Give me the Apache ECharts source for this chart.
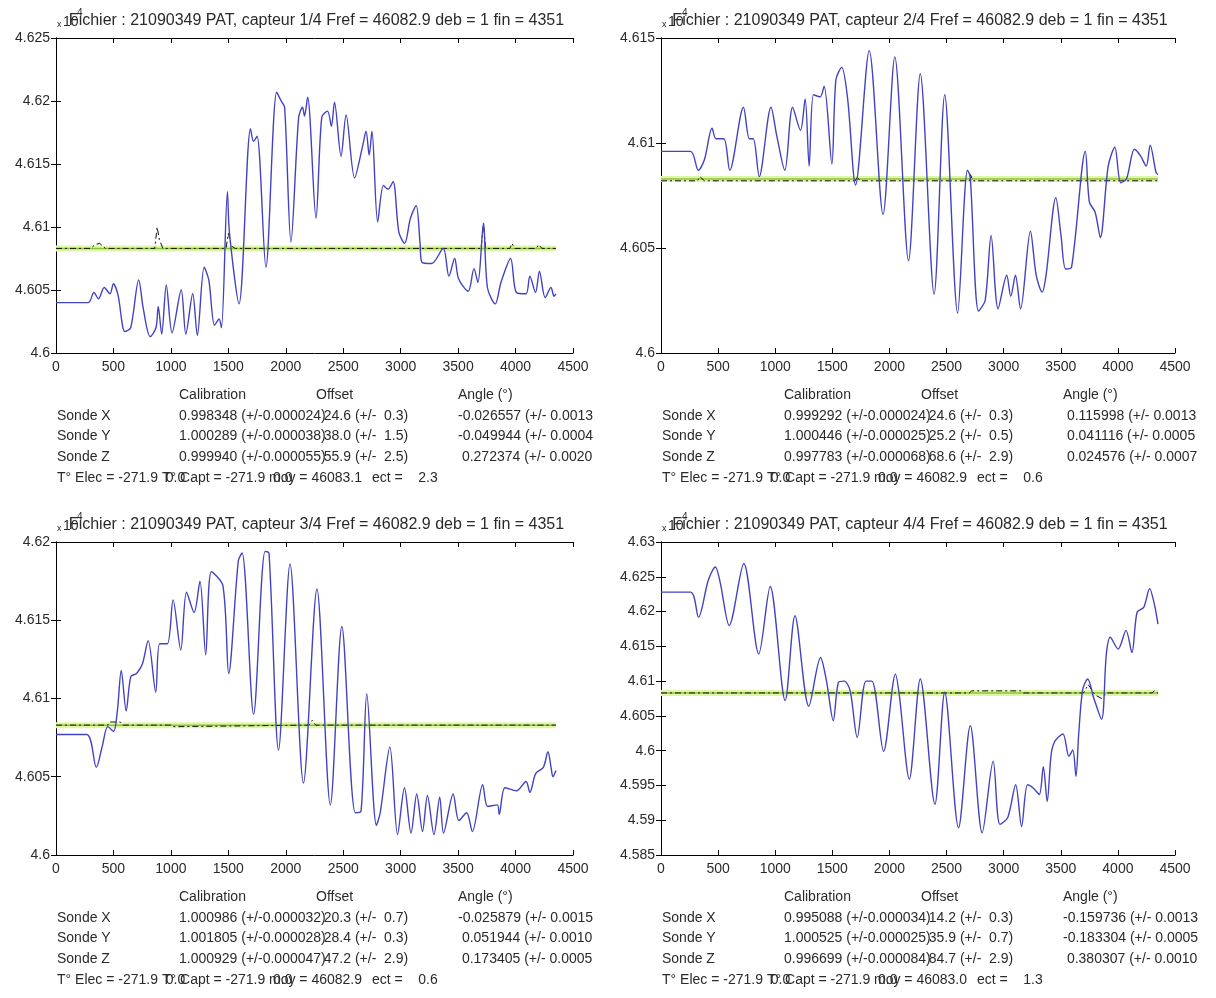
<!DOCTYPE html>
<html><head><meta charset="utf-8">
<script src="https://cdn.jsdelivr.net/npm/echarts@6/dist/echarts.min.js"></script>
<style>html,body{margin:0;padding:0;background:#fff}#c{width:1216px;height:998px}</style>
</head><body><div id="c"></div>
<script>
// ---------------- DATA ----------------
const titles = [
  'Fichier : 21090349 PAT, capteur 1/4 Fref = 46082.9 deb = 1 fin = 4351',
  'Fichier : 21090349 PAT, capteur 2/4 Fref = 46082.9 deb = 1 fin = 4351',
  'Fichier : 21090349 PAT, capteur 3/4 Fref = 46082.9 deb = 1 fin = 4351',
  'Fichier : 21090349 PAT, capteur 4/4 Fref = 46082.9 deb = 1 fin = 4351'
];
const yMin = [4.6, 4.6, 4.6, 4.585];
const yMax = [4.625, 4.615, 4.62, 4.63];
const refValue = 4.60829;   // Fref / 1e4
const lastSample = 4351;

// capteur 1/4 (blue raw signal)
const p1X = [0,280,330,370,420,470,500,540,600,650,720,760,820,870,890,920,960,1010,1090,1130,1190,1230,1290,1330,1380,1420,1440,1492,1510,1593,1693,1720,1750,1827,1921,1960,1990,2045,2112,2146,2163,2190,2263,2313,2364,2397,2424,2481,2525,2599,2666,2699,2726,2750,2800,2850,2890,2934,2984,3035,3085,3135,3168,3185,3269,3370,3420,3470,3504,3588,3638,3672,3712,3722,3755,3823,3873,3957,4007,4091,4124,4174,4208,4258,4308,4335,4351];
const p1Y = [4.6040,4.6040,4.6048,4.6043,4.6052,4.6047,4.6055,4.6046,4.6017,4.6020,4.6058,4.6035,4.6013,4.6020,4.6037,4.6015,4.6054,4.6016,4.6050,4.6015,4.6047,4.6014,4.6068,4.6058,4.6022,4.6027,4.6020,4.6128,4.6095,4.6039,4.6178,4.6168,4.6172,4.6068,4.6207,4.6200,4.6195,4.6088,4.6187,4.6195,4.6188,4.6203,4.6107,4.6187,4.6192,4.6180,4.6199,4.6156,4.6189,4.6139,4.6163,4.6176,4.6157,4.6176,4.6104,4.6133,4.6130,4.6136,4.6096,4.6087,4.6107,4.6117,4.6088,4.6072,4.6071,4.6083,4.6061,4.6075,4.6059,4.6049,4.6067,4.6056,4.6096,4.6103,4.6052,4.6039,4.6056,4.6075,4.6048,4.6047,4.6061,4.6048,4.6065,4.6044,4.6052,4.6045,4.6047];
// capteur 2/4
const p2X = [0,258,327,380,447,482,550,602,722,774,808,860,963,1015,1084,1152,1221,1262,1297,1335,1393,1428,1496,1531,1582,1634,1703,1823,1944,2047,2167,2270,2391,2484,2597,2683,2707,2780,2838,2890,2951,3027,3062,3103,3148,3234,3285,3337,3371,3457,3502,3543,3595,3715,3750,3801,3846,3915,3973,4025,4076,4145,4197,4248,4283,4334,4351];
const p2Y = [4.6096,4.6096,4.6087,4.6092,4.6107,4.6102,4.6102,4.6087,4.6117,4.6102,4.6102,4.6084,4.6117,4.6103,4.6087,4.6117,4.6106,4.6121,4.6089,4.6123,4.6122,4.6127,4.6090,4.6130,4.6136,4.6121,4.6080,4.6144,4.6066,4.6141,4.6044,4.6133,4.6028,4.6123,4.6019,4.6087,4.6084,4.6020,4.6025,4.6056,4.6021,4.6037,4.6027,4.6037,4.6021,4.6058,4.6037,4.6029,4.6037,4.6074,4.6056,4.6040,4.6041,4.6096,4.6072,4.6067,4.6055,4.6089,4.6098,4.6081,4.6083,4.6097,4.6094,4.6089,4.6099,4.6086,4.6085];
// capteur 3/4
const p3X = [0,267,351,401,451,501,534,568,611,651,701,752,802,868,902,969,1019,1086,1136,1202,1253,1303,1353,1453,1503,1587,1620,1720,1820,1854,1937,2037,2154,2271,2388,2488,2605,2655,2705,2789,2822,2906,2973,3033,3090,3140,3190,3233,3290,3340,3373,3457,3507,3574,3624,3714,3757,3841,3858,3908,4008,4091,4125,4175,4242,4282,4309,4325,4351];
const p3Y = [4.6077,4.6077,4.6056,4.6069,4.6082,4.6079,4.6092,4.6118,4.6092,4.6114,4.6116,4.6122,4.6137,4.6104,4.6135,4.6135,4.6163,4.6131,4.6168,4.6155,4.6175,4.6128,4.6181,4.6172,4.6116,4.6188,4.6193,4.6090,4.6194,4.6193,4.6067,4.6186,4.6046,4.6170,4.6032,4.6146,4.6027,4.6028,4.6103,4.6019,4.6027,4.6069,4.6013,4.6043,4.6014,4.6039,4.6015,4.6038,4.6013,4.6037,4.6014,4.6039,4.6022,4.6027,4.6015,4.6045,4.6031,4.6032,4.6026,4.6043,4.6041,4.6047,4.6040,4.6052,4.6056,4.6066,4.6056,4.6050,4.6054];
// capteur 4/4
const p4X = [0,259,328,414,476,518,597,725,856,956,1087,1173,1294,1397,1449,1508,1553,1604,1656,1718,1794,1846,1949,2053,2087,2174,2270,2398,2484,2605,2708,2812,2908,2967,3036,3105,3157,3209,3260,3312,3347,3381,3416,3450,3519,3571,3605,3633,3657,3692,3736,3788,3857,3899,3933,4002,4071,4123,4168,4226,4278,4320,4351];
const p4Y = [4.6228,4.6228,4.6192,4.6245,4.6264,4.6242,4.6180,4.6269,4.6139,4.6236,4.6072,4.6194,4.6064,4.6134,4.6100,4.6043,4.6098,4.6100,4.6086,4.6019,4.6100,4.6100,4.5999,4.6110,4.6079,4.5959,4.6103,4.5923,4.6084,4.5889,4.6036,4.5882,4.5985,4.5894,4.5904,4.5951,4.5891,4.5951,4.5946,4.5937,4.5977,4.5927,4.5995,4.6014,4.6024,4.5992,4.6001,4.5963,4.6024,4.6088,4.6103,4.6076,4.6045,4.6139,4.6163,4.6146,4.6173,4.6141,4.6199,4.6206,4.6233,4.6210,4.6182];

// corrected signals (black dash-dot)
const c1X = [0,300,340,380,430,860,880,900,930,1480,1500,1525,1560,3700,3720,3740,3950,3970,3990,4180,4200,4230,4351];
const c1Y = [4.6083,4.6083,4.6086,4.6087,4.6083,4.6083,4.6100,4.6090,4.6083,4.6083,4.6095,4.6085,4.6083,4.6083,4.6103,4.6083,4.6083,4.6087,4.6083,4.6083,4.6086,4.6083,4.6083];
const c2X = [0,320,340,380,500,1700,1720,1740,2700,2710,2730,4351];
const c2Y = [4.6082,4.6082,4.6084,4.6082,4.6082,4.6082,4.6084,4.6082,4.6082,4.6085,4.6082,4.6082];
const c3X = [0,450,470,560,580,1000,1020,2200,2230,2260,4351];
const c3Y = [4.6083,4.6083,4.6085,4.6085,4.6083,4.6083,4.6082,4.6083,4.6086,4.6083,4.6083];
const c4X = [0,2700,2720,3150,3170,3700,3740,3800,3860,3900,4300,4320,4340,4351];
const c4Y = [4.6083,4.6083,4.6086,4.6086,4.6083,4.6083,4.6095,4.6080,4.6075,4.6083,4.6083,4.6086,4.6083,4.6083];

// table texts
const calib = [
  ['0.998348 (+/-0.000024)','1.000289 (+/-0.000038)','0.999940 (+/-0.000055)'],
  ['0.999292 (+/-0.000024)','1.000446 (+/-0.000025)','0.997783 (+/-0.000068)'],
  ['1.000986 (+/-0.000032)','1.001805 (+/-0.000028)','1.000929 (+/-0.000047)'],
  ['0.995088 (+/-0.000034)','1.000525 (+/-0.000025)','0.996699 (+/-0.000084)']
];
const offs = [
  ['  24.6 (+/-  0.3)','  38.0 (+/-  1.5)','  55.9 (+/-  2.5)'],
  ['  24.6 (+/-  0.3)','  25.2 (+/-  0.5)','  68.6 (+/-  2.9)'],
  ['  20.3 (+/-  0.7)','  28.4 (+/-  0.3)','  47.2 (+/-  2.9)'],
  ['  14.2 (+/-  0.3)','  35.9 (+/-  0.7)','  84.7 (+/-  2.9)']
];
const angles = [
  ['-0.026557 (+/- 0.0013','-0.049944 (+/- 0.0004',' 0.272374 (+/- 0.0020'],
  [' 0.115998 (+/- 0.0013',' 0.041116 (+/- 0.0005',' 0.024576 (+/- 0.0007'],
  ['-0.025879 (+/- 0.0015',' 0.051944 (+/- 0.0010',' 0.173405 (+/- 0.0005'],
  ['-0.159736 (+/- 0.0013','-0.183304 (+/- 0.0005',' 0.380307 (+/- 0.0010']
];
const tElec = ['-271.9','-271.9','-271.9','-271.9'];
const tCapt = ['-271.9','-271.9','-271.9','-271.9'];
const moy = ['46083.1','46082.9','46082.9','46083.0'];
const ect = ['2.3','0.6','0.6','1.3'];
const rowLabels = ['Sonde X','Sonde Y','Sonde Z'];
const headers = ['Calibration','Offset','Angle (°)'];

// ---------------- LAYOUT ----------------
const layout = [
  {L:56, T:38, W:517, H:315},
  {L:661,T:38, W:514, H:315},
  {L:56, T:542,W:517, H:313},
  {L:661,T:542,W:514, H:313}
];
const FONT = '"Liberation Sans", Arial, Helvetica, sans-serif';
const TXT = '#2a2a2a';

const blueX = [p1X,p2X,p3X,p4X], blueY = [p1Y,p2Y,p3Y,p4Y];
const corrX = [c1X,c2X,c3X,c4X], corrY = [c1Y,c2Y,c3Y,c4Y];
const pairs = (xs, ys) => xs.map((x,i)=>[x, ys[i]]);

const grid=[], xAxis=[], yAxis=[], series=[], graphic=[];
layout.forEach((g,i)=>{
  grid.push({left:g.L, top:g.T, width:g.W, height:g.H, show:false, containLabel:false});
  const line = {show:true, lineStyle:{color:'#000', width:1}};
  const tick = {show:true, inside:true, length:5, lineStyle:{color:'#000', width:1}};
  xAxis.push({gridIndex:i, type:'value', min:0, max:4500, interval:500, position:'bottom',
    axisLine:line, axisTick:tick, splitLine:{show:false},
    axisLabel:{show:true, color:TXT, fontFamily:FONT, fontSize:14, margin:7, formatter:v=>String(v)}});
  xAxis.push({gridIndex:i, type:'value', min:0, max:4500, interval:500, position:'top',
    axisLine:line, axisTick:tick, splitLine:{show:false}, axisLabel:{show:false}});
  yAxis.push({gridIndex:i, type:'value', min:yMin[i], max:yMax[i], interval:0.005, position:'left',
    axisLine:line, axisTick:tick, splitLine:{show:false},
    axisLabel:{show:true, color:TXT, fontFamily:FONT, fontSize:14, margin:6}});
  yAxis.push({gridIndex:i, type:'value', min:yMin[i], max:yMax[i], interval:0.005, position:'right',
    axisLine:line, axisTick:tick, splitLine:{show:false}, axisLabel:{show:false}});
  const xi=2*i, yi=2*i;
  const refData = [[0,refValue],[lastSample,refValue]];
  series.push({type:'line', xAxisIndex:xi, yAxisIndex:yi, data:refData, symbol:'none', silent:true,
    lineStyle:{color:'#e4f4a6', width:6}, z:2});
  series.push({type:'line', xAxisIndex:xi, yAxisIndex:yi, data:refData, symbol:'none', silent:true,
    lineStyle:{color:'#86c63c', width:1.5}, z:3});
  series.push({type:'line', xAxisIndex:xi, yAxisIndex:yi, data:pairs(corrX[i],corrY[i]), symbol:'none', silent:true,
    lineStyle:{color:'#111', width:1, type:[6,3,2,3]}, z:4});
  series.push({type:'line', xAxisIndex:xi, yAxisIndex:yi, data:pairs(blueX[i],blueY[i]), symbol:'none', silent:true,
    smooth:0.3, lineStyle:{color:'#4343c2', width:1.4}, z:5});

  // title and exponent
  const ty = g.T - 17;
  graphic.push({type:'text', style:{text:titles[i], x:g.L+g.W/2+2, y:ty, align:'center', verticalAlign:'middle',
    font:'16px '+FONT, fill:TXT}});
  graphic.push({type:'text', style:{text:'x', x:g.L+1, y:ty+4, align:'left', verticalAlign:'middle', font:'9px '+FONT, fill:TXT}});
  graphic.push({type:'text', style:{text:'10', x:g.L+7, y:ty+1, align:'left', verticalAlign:'middle', font:'14px '+FONT, fill:TXT}});
  graphic.push({type:'text', style:{text:'4', x:g.L+21, y:ty-8, align:'left', verticalAlign:'middle', font:'10px '+FONT, fill:TXT}});

  // table
  const y0 = g.T + g.H + 42, dy = 20.7;
  const f = '14px '+FONT;
  const colCal = g.L+123, colOff = g.L+260, colAng = g.L+402;
  [[headers[0],colCal],[headers[1],colOff],[headers[2],colAng]].forEach(([t,x])=>
    graphic.push({type:'text', style:{text:t, x:x, y:y0, verticalAlign:'middle', font:f, fill:TXT}}));
  for(let r=0;r<3;r++){
    const yy = y0 + dy*(r+1);
    graphic.push({type:'text', style:{text:rowLabels[r], x:g.L+1, y:yy, verticalAlign:'middle', font:f, fill:TXT}});
    graphic.push({type:'text', style:{text:calib[i][r], x:colCal, y:yy, verticalAlign:'middle', font:f, fill:TXT}});
    graphic.push({type:'text', style:{text:offs[i][r], x:colOff, y:yy, verticalAlign:'middle', font:f, fill:TXT}});
    graphic.push({type:'text', style:{text:angles[i][r], x:colAng, y:yy, verticalAlign:'middle', font:f, fill:TXT}});
  }
  const y4 = y0 + dy*4;
  graphic.push({type:'text', style:{text:'T° Elec = '+tElec[i]+'  0.0', x:g.L+1, y:y4, verticalAlign:'middle', font:f, fill:TXT}});
  graphic.push({type:'text', style:{text:'T° Capt = '+tCapt[i]+'  0.0', x:g.L+106, y:y4, verticalAlign:'middle', font:f, fill:TXT}});
  graphic.push({type:'text', style:{text:'moy = '+moy[i], x:g.L+213, y:y4, verticalAlign:'middle', font:f, fill:TXT}});
  graphic.push({type:'text', style:{text:'ect =    '+ect[i], x:g.L+316, y:y4, verticalAlign:'middle', font:f, fill:TXT}});
});

const chart = echarts.init(document.getElementById('c'), null, {renderer:'canvas'});
chart.setOption({backgroundColor:'#fff', animation:false, grid, xAxis, yAxis, series, graphic});
</script></body></html>
